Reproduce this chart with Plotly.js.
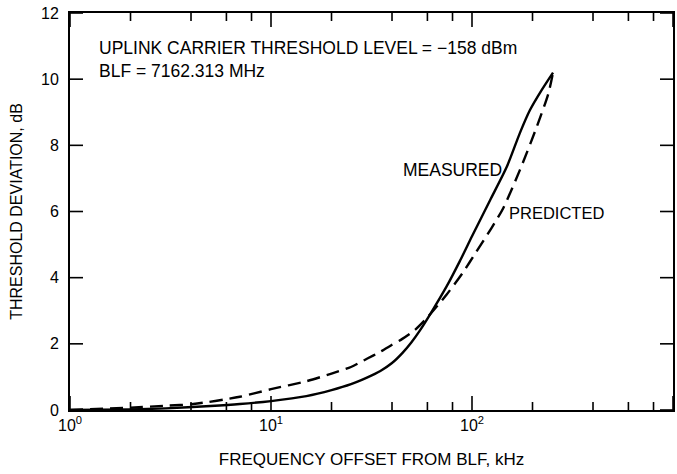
<!DOCTYPE html>
<html>
<head>
<meta charset="utf-8">
<script src="https://cdn.plot.ly/plotly-3.0.1.min.js"></script>
<style>html,body{margin:0;padding:0;background:#fff;}#chart{width:677px;height:474px;}</style>
</head>
<body>
<div id="chart"></div>
<script>
// Measured curve (solid)
const measuredFreq = [1, 2, 3, 5, 7, 10, 15, 20, 25, 30, 35, 40, 45, 50, 55, 62, 75, 87, 100, 123, 149, 173, 194, 222, 253];
const measuredDev  = [0, 0.02, 0.05, 0.12, 0.18, 0.27, 0.42, 0.6, 0.78, 0.98, 1.18, 1.42, 1.72, 2.05, 2.4, 2.9, 3.75, 4.5, 5.25, 6.34, 7.35, 8.37, 9.06, 9.67, 10.2];
// Predicted curve (dashed)
const predictedFreq = [1, 2, 3, 4.1, 7, 10, 15, 20, 25, 30, 35, 40, 45, 52, 60, 75, 90, 105, 125, 143, 173, 210, 240, 253];
const predictedDev  = [0, 0.07, 0.13, 0.18, 0.4, 0.63, 0.87, 1.1, 1.3, 1.55, 1.76, 1.97, 2.15, 2.42, 2.8, 3.5, 4.15, 4.78, 5.5, 6.1, 7.25, 8.56, 9.57, 10.2];
// Axis ticks
const xMajorVals = [1, 10, 100, 1000];
const xMajorText = ["10<sup>0</sup>", "10<sup>1</sup>", "10<sup>2</sup>", "10<sup>3</sup>"];
const xMinorVals = [2, 4, 6, 8, 20, 40, 60, 80, 200, 400, 600, 800];
const yTickVals = [0, 2, 4, 6, 8, 10, 12];

const fam = "Liberation Sans, Arial, sans-serif";
const font = {family: fam, size: 17.5, color: "#000"};
const W = 677, H = 474, M = {l: 70, r: 4, t: 13, b: 64};
const xLogRange = [0, 3], yRange = [0, 12];

// inward tick marks: segments built from the tick arrays, converted from pixel length to axis units
const decPerPx = (xLogRange[1] - xLogRange[0]) / (W - M.l - M.r);
const unitPerPx = (yRange[1] - yRange[0]) / (H - M.t - M.b);
const tickX = [], tickY = [];
function xTick(v, len) {
  const d = len * unitPerPx;
  tickX.push(v, v, null, v, v, null);
  tickY.push(yRange[0], yRange[0] + d, null, yRange[1], yRange[1] - d, null);
}
xMajorVals.forEach(v => xTick(v, 14));
xMinorVals.forEach(v => xTick(v, 8));
yTickVals.forEach(v => {
  const d = 13 * decPerPx;
  tickX.push(Math.pow(10, xLogRange[0]), Math.pow(10, xLogRange[0] + d), null,
             Math.pow(10, xLogRange[1]), Math.pow(10, xLogRange[1] - d), null);
  tickY.push(v, v, null, v, v, null);
});

const traces = [
  {x: tickX, y: tickY, mode: "lines", type: "scatter", hoverinfo: "skip",
   line: {color: "#000", width: 1.6}, connectgaps: false},
  {x: measuredFreq, y: measuredDev, mode: "lines", type: "scatter",
   line: {color: "#000", width: 2.4, shape: "spline", smoothing: 0.7}},
  {x: predictedFreq, y: predictedDev, mode: "lines", type: "scatter",
   line: {color: "#000", width: 2.4, shape: "spline", smoothing: 0.7, dash: "13px,7px"}}
];

const layout = {
  width: W, height: H,
  margin: M,
  paper_bgcolor: "#fff", plot_bgcolor: "#fff",
  showlegend: false,
  font: font,
  xaxis: {
    type: "log", range: xLogRange, autorange: false,
    tickmode: "array", tickvals: xMajorVals, ticktext: xMajorText,
    ticks: "", showline: true, linecolor: "#000", linewidth: 2, mirror: true,
    showgrid: false, zeroline: false,
    tickfont: {family: fam, size: 16, color: "#000"},
    title: {text: "FREQUENCY OFFSET FROM BLF, kHz", font: {family: fam, size: 17, color: "#000"}, standoff: 20}
  },
  yaxis: {
    range: yRange, autorange: false,
    tickmode: "array", tickvals: yTickVals,
    ticks: "", showline: true, linecolor: "#000", linewidth: 2, mirror: true,
    showgrid: false, zeroline: false, ticklabelstandoff: 6,
    tickfont: {family: fam, size: 16, color: "#000"},
    title: {text: "THRESHOLD DEVIATION, dB", font: {family: fam, size: 16, color: "#000"}, standoff: 14}
  },
  annotations: [
    {xref: "paper", yref: "paper", x: 0.045, y: 0.912, xanchor: "left", yanchor: "middle",
     text: "UPLINK CARRIER THRESHOLD LEVEL = \u2212158 dBm", showarrow: false, font: font},
    {xref: "paper", yref: "paper", x: 0.045, y: 0.854, xanchor: "left", yanchor: "middle",
     text: "BLF = 7162.313 MHz", showarrow: false, font: font},
    {xref: "paper", yref: "paper", x: 0.72, y: 0.605, xanchor: "right", yanchor: "middle",
     text: "MEASURED", showarrow: false, font: font},
    {xref: "paper", yref: "paper", x: 0.724, y: 0.496, xanchor: "left", yanchor: "middle",
     text: "PREDICTED", showarrow: false, font: {family: fam, size: 16.5, color: "#000"}}
  ]
};

Plotly.newPlot("chart", traces, layout, {displayModeBar: false, staticPlot: true});
</script>
</body>
</html>
